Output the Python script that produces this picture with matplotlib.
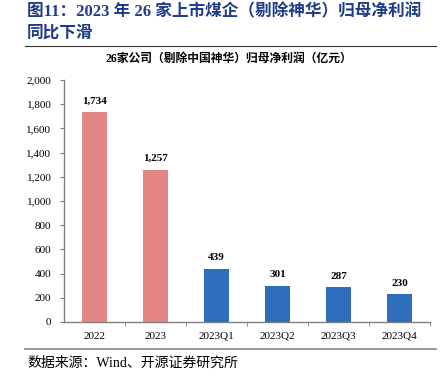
import matplotlib.pyplot as plt
from matplotlib.ticker import FuncFormatter, FixedLocator

categories = ['2022', '2023', '2023Q1', '2023Q2', '2023Q3', '2023Q4']
profits = [1734, 1257, 439, 301, 287, 230]
colors = ['#E38683', '#E38683', '#2E6EBD', '#2E6EBD', '#2E6EBD', '#2E6EBD']

title_lines = ['图11：2023 年 26 家上市煤企（剔除神华）归母净利润', '同比下滑']
chart_title = '26家公司（剔除中国神华）归母净利润（亿元）'
source_text = '数据来源：Wind、开源证券研究所'

mixed = ['Liberation Serif', 'Noto Sans CJK SC']


def main():
    fig = plt.figure(figsize=(4.41, 3.79), dpi=100)
    ax = fig.add_axes([0.145, 0.1504, 0.83, 0.6386])

    x = range(len(categories))
    ax.bar(x, profits, width=0.4, color=colors, zorder=2)
    for i, v in enumerate(profits):
        ax.text(i, v + 55, f'{v:,}', ha='center', va='bottom', fontsize=8,
                fontweight='bold', family=mixed)

    ax.set_xlim(-0.5, len(categories) - 0.5)
    ax.set_ylim(0, 2000)
    ax.set_yticks(range(0, 2001, 200))
    ax.yaxis.set_major_formatter(FuncFormatter(lambda v, p: f'{int(v):,}'))
    ax.set_xticks(list(x))
    ax.set_xticklabels(categories)
    ax.xaxis.set_minor_locator(FixedLocator([i + 0.5 for i in x]))
    ax.tick_params(axis='x', which='major', length=0, pad=7)
    ax.tick_params(axis='x', which='minor', length=3, direction='out', color='#808080')
    ax.tick_params(axis='y', length=3, direction='out', color='#808080', pad=6)
    for lab in ax.get_xticklabels() + ax.get_yticklabels():
        lab.set_family(mixed)
        lab.set_fontsize(8)

    for s in ['top', 'right']:
        ax.spines[s].set_visible(False)
    for s in ['left', 'bottom']:
        ax.spines[s].set_color('#808080')
        ax.spines[s].set_linewidth(1.0)

    # title, two lines
    fig.text(27 / 441, 1 - 12 / 379, title_lines[0], ha='left', va='center', fontsize=12,
             fontweight='bold', color='#1F3C88', family=mixed)
    fig.text(27 / 441, 1 - 34 / 379, title_lines[1], ha='left', va='center', fontsize=12,
             fontweight='bold', color='#1F3C88', family=mixed)
    fig.add_artist(plt.Line2D([25 / 441, 436 / 441], [1 - 46 / 379, 1 - 46 / 379],
                              color='#333333', linewidth=0.8))
    fig.text(229 / 441, 1 - 59 / 379, chart_title, ha='center', va='center',
             fontsize=8.5, fontweight='bold', family=mixed)
    fig.add_artist(plt.Line2D([25 / 441, 436 / 441], [1 - 349 / 379, 1 - 349 / 379],
                              color='#888888', linewidth=1.2))
    fig.text(27 / 441, 1 - 363 / 379, source_text, ha='left', va='center',
             fontsize=10, family=mixed)

    fig.savefig('out.png', dpi=100)


if __name__ == "__main__":
    main()
